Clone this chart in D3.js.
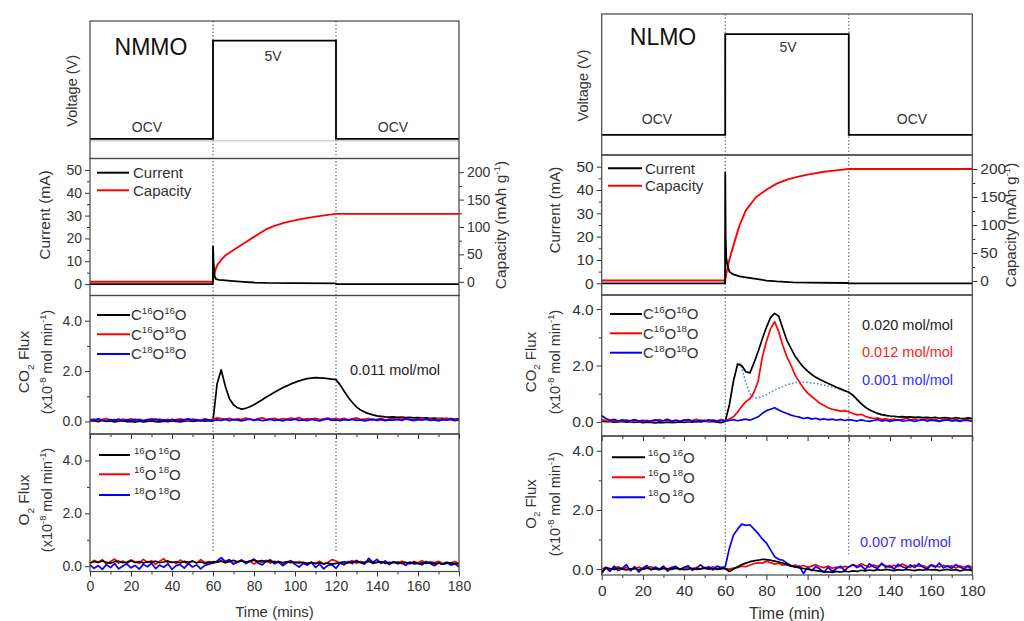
<!DOCTYPE html>
<html>
<head>
<meta charset="utf-8">
<script src="https://cdn.jsdelivr.net/npm/d3@7"></script>
<style>
  body { margin: 0; background: #fff; }
  svg { font-family: "Liberation Sans", Arial, sans-serif; }
</style>
</head>
<body>
<svg id="chart" width="1024" height="621"></svg>
<script>
// ---- data ----
const time = d3.range(0, 181, 2);   // MS sampling grid (min)

const vTime = [0, 60, 120, 180];
const vLevel = [3, 5, 3, 3];

const nmmoCurT = [0, 59.9, 60, 60.3, 60.8, 61.5, 63, 66, 70, 75, 80, 86, 100, 119.9, 120, 180];
const nmmoCur  = [0, 0, 16.5, 9, 3.5, 2.2, 1.8, 1.6, 1.3, 1.0, 0.7, 0.5, 0.4, 0.3, 0, 0];
const nmmoCapT = [0, 60, 60.5, 61, 62, 64, 66, 70, 75, 80, 86, 90, 95, 102, 110, 118, 120, 180];
const nmmoCap  = [0, 0, 12, 20, 30, 40, 48, 58, 70, 82, 96, 102, 108, 114, 119, 123, 124, 124];

const nlmoCurT = [0, 59.9, 60, 60.2, 60.5, 61, 62, 64, 67, 70, 75, 80, 85, 93, 100, 119.9, 120, 180];
const nlmoCur  = [0, 0, 47.5, 20, 11, 8, 5, 3.8, 3, 2.6, 1.9, 1.2, 0.8, 0.4, 0.3, 0.15, 0, 0];
const nlmoCapT = [0, 60, 60.5, 61, 62, 64, 67, 70, 75, 80, 85, 90, 95, 100, 108, 115, 120, 180];
const nlmoCap  = [1, 1, 12, 22, 38, 64, 100, 126, 150, 163, 174, 181, 186, 190, 195, 198, 200, 200];

const nmmoCO2_1616 = [
  0.02,0.03,-0.01,0.04,0.00,0.02,-0.02,0.01,0.03,-0.01, 0.00,-0.03,0.01,-0.02,0.00,0.02,-0.01,-0.02,0.01,-0.01, 0.02,0.00,-0.02,0.01,0.03,0.00,0.02,0.04,0.01,0.03, 0.02,
  1.50,2.05,1.40,0.90,0.66,0.54,0.49,0.52,0.58,0.66, 0.76,0.86,0.97,1.06,1.16,1.25,1.34,1.41,1.49,1.55, 1.61,1.66,1.70,1.72,1.74,1.73,1.72,1.70,1.68,1.66,
  1.45,1.20,0.95,0.75,0.58,0.45,0.37,0.31,0.26,0.22, 0.20,0.18,0.17,0.18,0.16,0.17,0.15,0.16,0.14,0.15, 0.13,0.14,0.12,0.13,0.11,0.12,0.10,0.11,0.09,0.10];
const nmmoCO2_1618 = [
  0.06,0.09,0.04,0.08,0.11,0.05,0.07,0.03,0.09,0.06, 0.10,0.05,0.08,0.04,0.07,0.11,0.06,0.09,0.05,0.08, 0.03,0.07,0.10,0.06,0.04,0.09,0.07,0.05,0.10,0.06, 0.08,
  0.14,0.11,0.09,0.12,0.07,0.10,0.08,0.13,0.09,0.06, 0.11,0.14,0.08,0.10,0.12,0.07,0.11,0.09,0.13,0.10, 0.15,0.08,0.11,0.09,0.12,0.07,0.10,0.13,0.09,0.11,
  0.08,0.12,0.06,0.10,0.14,0.07,0.09,0.11,0.05,0.08, 0.12,0.06,0.09,0.11,0.07,0.13,0.08,0.10,0.05,0.09, 0.12,0.07,0.10,0.06,0.11,0.08,0.13,0.07,0.09,0.06];
const nmmoCO2_1818 = [
  0.08,0.03,0.10,0.05,0.01,0.07,0.04,0.09,0.02,0.06, 0.03,0.08,0.05,0.01,0.07,0.04,0.09,0.03,0.06,0.02, 0.08,0.05,0.03,0.07,0.10,0.04,0.06,0.02,0.08,0.05, 0.03,
  0.06,0.04,0.08,0.03,0.07,0.05,0.02,0.06,0.09,0.04, 0.07,0.03,0.05,0.08,0.04,0.06,0.02,0.07,0.05,0.09, 0.04,0.06,0.03,0.08,0.05,0.02,0.07,0.10,0.04,0.06,
  0.03,0.07,0.05,0.08,0.04,0.06,0.02,0.05,0.09,0.04, 0.07,0.03,0.06,0.05,0.08,0.04,0.10,0.06,0.03,0.07, 0.05,0.09,0.04,0.06,0.02,0.07,0.05,0.08,0.03,0.06];

const nmmoO2_1616 = [
  0.12,0.18,0.14,0.20,0.15,0.11,0.17,0.19,0.13,0.16, 0.21,0.14,0.18,0.12,0.17,0.15,0.19,0.13,0.16,0.20, 0.14,0.17,0.12,0.18,0.15,0.19,0.13,0.16,0.11,0.14, 0.17,
  0.15,0.19,0.14,0.18,0.22,0.17,0.20,0.16,0.19,0.23, 0.18,0.21,0.17,0.20,0.15,0.18,0.14,0.17,0.13,0.16, 0.12,0.15,0.11,0.14,0.10,0.13,0.09,0.12,0.08,0.11,
  0.14,0.17,0.12,0.16,0.19,0.13,0.15,0.18,0.12,0.14, 0.17,0.11,0.15,0.13,0.16,0.10,0.14,0.12,0.15,0.09, 0.13,0.11,0.14,0.10,0.12,0.08,0.11,0.13,0.09,0.10];
const nmmoO2_1618 = [
  0.10,0.22,0.15,0.25,0.08,0.18,0.27,0.12,0.20,0.09, 0.24,0.16,0.11,0.26,0.14,0.21,0.07,0.19,0.28,0.13, 0.17,0.10,0.23,0.15,0.09,0.20,0.12,0.25,0.14,0.18, 0.11,
  0.16,0.22,0.12,0.19,0.09,0.17,0.24,0.13,0.20,0.08, 0.18,0.15,0.22,0.11,0.19,0.14,0.07,0.16,0.21,0.10, 0.18,0.13,0.06,0.15,0.11,0.19,0.08,0.14,0.25,0.20,
  0.12,0.09,0.16,0.21,0.11,0.18,0.14,0.22,0.10,0.17, 0.13,0.20,0.09,0.16,0.12,0.19,0.15,0.08,0.18,0.13, 0.21,0.11,0.17,0.14,0.19,0.10,0.15,0.12,0.18,0.09];
const nmmoO2_1818 = [
  0.05,-0.08,0.02,-0.12,0.06,-0.05,0.10,-0.10,0.01,0.08, -0.06,0.03,-0.11,0.07,-0.02,0.11,-0.09,0.04,-0.04,0.09, -0.12,0.02,0.06,-0.07,0.10,-0.03,0.05,-0.10,0.03,0.08, 0.12,
  0.20,0.32,0.18,0.25,0.08,0.15,0.22,0.10,0.18,0.27, 0.12,0.05,0.19,0.24,0.09,0.16,0.02,0.13,0.20,0.07, -0.03,0.11,0.04,0.15,-0.05,0.08,-0.10,0.03,0.06,-0.08,
  0.12,0.05,0.18,0.10,0.22,0.14,0.08,0.30,0.15,0.26, 0.11,0.19,0.06,0.17,0.09,0.14,0.03,0.16,0.08,0.12, 0.05,0.18,0.10,0.02,0.13,0.07,0.15,0.04,0.09,-0.02];

const nlmoCO2_1616 = [
  0.03,0.01,0.02,-0.01,0.00,0.02,-0.01,0.01,-0.02,0.00, -0.03,-0.01,-0.02,-0.04,-0.02,-0.03,-0.01,-0.03,-0.02,0.00, -0.02,0.01,-0.01,0.02,0.00,0.03,0.01,0.02,-0.01,-0.03, 0.02,
  0.60,1.45,2.05,2.00,1.78,1.74,2.10,2.50,2.95,3.35, 3.70,3.85,3.75,3.30,2.88,2.60,2.32,2.12,1.94,1.80, 1.68,1.58,1.50,1.43,1.36,1.30,1.23,1.17,1.11,1.05,
  0.95,0.80,0.65,0.52,0.43,0.36,0.30,0.26,0.23,0.21, 0.20,0.18,0.19,0.17,0.18,0.16,0.17,0.15,0.16,0.14, 0.16,0.13,0.15,0.14,0.12,0.15,0.13,0.12,0.14,0.12];
const nlmoCO2_1618 = [
  0.08,0.05,0.02,0.06,0.01,0.04,0.07,0.02,0.05,0.00, 0.03,0.06,0.01,0.04,0.08,0.03,0.05,0.01,0.06,0.03, 0.07,0.02,0.05,0.09,0.04,0.06,0.02,0.07,0.04,0.08, 0.05,
  0.10,0.18,0.35,0.55,0.72,0.82,1.05,1.45,2.30,2.85, 3.30,3.55,3.20,2.70,2.30,2.00,1.65,1.42,1.20,1.02, 0.90,0.78,0.66,0.58,0.50,0.45,0.42,0.38,0.40,0.36,
  0.30,0.25,0.27,0.20,0.15,0.12,0.14,0.09,0.11,0.07, 0.10,0.06,0.09,0.12,0.07,0.10,0.05,0.08,0.11,0.06, 0.09,0.04,0.08,0.10,0.06,0.09,0.05,0.08,0.07,0.05];
const nlmoCO2_1818 = [
  0.22,0.12,0.06,0.09,0.03,0.07,0.02,0.05,0.08,0.03, 0.06,0.01,0.04,0.07,0.02,0.05,0.09,0.03,0.06,0.02, 0.05,0.08,0.04,0.01,0.06,0.03,0.07,0.04,0.02,0.05, 0.03,
  0.05,0.08,0.04,0.07,0.10,0.06,0.12,0.18,0.30,0.40, 0.45,0.50,0.42,0.35,0.30,0.24,0.20,0.17,0.12,0.15, 0.10,0.13,0.08,0.11,0.07,0.10,0.06,0.09,0.05,0.08,
  0.06,0.03,0.07,0.04,0.02,0.05,0.08,0.03,0.06,0.02, 0.05,0.07,0.03,0.04,0.06,0.02,0.05,0.08,0.03,0.06, 0.04,0.02,0.05,0.07,0.03,0.05,0.02,0.06,0.04,0.03];
// fitted component (dotted)
const nlmoFitT = [60, 62, 64, 66, 67, 68, 70, 72, 74, 76, 80, 85, 90, 95, 100, 105, 110, 115, 120, 125, 130, 135, 140, 150, 160];
const nlmoFit  = [0.02, 0.60, 1.45, 2.05, 2.10, 1.90, 1.40, 1.00, 0.86, 0.85, 0.97, 1.17, 1.32, 1.40, 1.40, 1.35, 1.27, 1.17, 1.06, 0.72, 0.42, 0.26, 0.19, 0.15, 0.13];

const nlmoO2_1616 = [
  -0.12,0.05,0.02,-0.01,0.03,0.00,-0.03,0.01,0.02,-0.02, 0.00,0.03,-0.01,0.01,-0.02,0.02,0.00,-0.01,0.03,0.01, -0.02,0.00,0.02,-0.01,0.01,0.03,0.00,0.02,-0.01,0.01, 0.02,
  -0.08,0.00,0.08,0.15,0.20,0.25,0.28,0.30,0.33,0.32, 0.30,0.27,0.24,0.20,0.15,0.10,0.08,0.04,0.02,0.00, -0.03,-0.05,-0.07,-0.10,-0.09,-0.11,-0.08,-0.10,-0.07,-0.09,
  -0.06,-0.08,-0.04,-0.06,-0.03,-0.05,-0.02,-0.04,-0.01,-0.03, -0.05,-0.02,-0.04,-0.01,-0.03,-0.05,-0.02,-0.04,-0.01,-0.03, -0.02,-0.05,-0.03,-0.01,-0.04,-0.02,-0.06,-0.03,-0.02,-0.05];
const nlmoO2_1618 = [
  0.00,0.06,-0.02,0.04,0.08,0.01,0.05,-0.03,0.03,0.07, 0.00,0.04,0.08,0.02,-0.02,0.05,0.01,0.06,0.03,-0.01, 0.04,0.07,0.02,0.05,0.00,0.06,0.03,0.08,0.01,0.04, 0.02,
  0.00,0.03,0.05,0.10,0.08,0.14,0.18,0.22,0.20,0.26, 0.22,0.17,0.20,0.13,0.16,0.10,0.14,0.08,0.12,0.06, 0.10,0.15,0.08,0.05,0.10,0.03,0.07,0.04,0.09,0.06,
  0.15,0.10,0.18,0.12,0.06,0.14,0.09,0.16,0.11,0.05, 0.13,0.08,0.17,0.10,0.06,0.14,0.09,0.12,0.05,0.15, 0.10,0.07,0.13,0.08,0.11,0.04,0.10,0.07,0.12,0.05];
const nlmoO2_1818 = [
  -0.15,0.05,-0.08,0.10,-0.05,0.02,0.15,-0.06,0.08,-0.10, 0.04,0.12,-0.03,0.07,0.00,0.10,-0.07,0.05,0.09,-0.02, 0.06,0.11,-0.04,0.03,0.14,0.02,0.08,-0.03,0.10,0.05, 0.08,
  0.70,1.15,1.35,1.52,1.48,1.50,1.35,1.20,1.02,0.88, 0.65,0.42,0.33,0.30,0.20,0.12,0.06,0.10,-0.15,0.05, -0.05,0.08,0.00,-0.10,0.06,-0.08,0.02,0.10,-0.05,0.08,
  0.15,0.05,0.12,-0.02,0.18,0.08,0.02,0.20,0.06,0.12, 0.00,0.16,0.08,0.03,0.14,0.05,0.18,0.07,0.00,0.13, 0.06,0.20,0.04,0.11,0.02,0.15,0.07,0.00,0.10,-0.05];

// ---- layout per panel ----
const panels = [
  {
    name: "NMMO", x0: 90, x1: 459,
    vY: [21, 158.5], cY: [158.5, 295.5], co2Y: [295.5, 434], o2Y: [434, 571.5],
    co2Dom: [-0.5, 5], o2Dom: [-0.2, 5],
    tickFs: 14, titleFs: 15.5, legFs: 15, xTitle: "Time (mins)", xTitleFs: 15, xLabY: 592, xTitleY: 617,
    vTitleX: 72, cTitleX: 45, capTitleX: 501, fluxX1: 24, fluxX2: 47,
    cTitleCY: 215, capTitleCY: 225, co2CY: 362, o2CY: 500,
    nameXY: [151, 55], fiveV: [273, 61], ocv: [[147, 132], [393, 132]], baseLine: true,
    cur: [nmmoCurT, nmmoCur], cap: [nmmoCapT, nmmoCap],
    co2: [nmmoCO2_1616, nmmoCO2_1618, nmmoCO2_1818], o2: [nmmoO2_1616, nmmoO2_1618, nmmoO2_1818],
    legC: {x1: 97, x2: 129, tx: 133, ys: [172.7, 190.3]},
    legCO2: {x1: 97, x2: 130, tx: 131, ys: [315, 334.3, 354]},
    legO2: {x1: 99, x2: 130, tx: 134, ys: [455, 474.3, 495]},
    notesCO2: [["0.011 mol/mol", 350, 375, "#222"]], notesO2: []
  },
  {
    name: "NLMO", x0: 601.7, x1: 972.3,
    vY: [14, 155], cY: [155, 295], co2Y: [295, 436], o2Y: [436, 575],
    co2Dom: [-0.5, 4.5], o2Dom: [-0.2, 4.5],
    tickFs: 15.5, titleFs: 15, legFs: 15, xTitle: "Time (min)", xTitleFs: 16, xLabY: 597, xTitleY: 619,
    vTitleX: 583, cTitleX: 555, capTitleX: 1011, fluxX1: 531, fluxX2: 555,
    cTitleCY: 210, capTitleCY: 225, co2CY: 362, o2CY: 504,
    nameXY: [663, 45], fiveV: [788, 52], ocv: [[657, 123.5], [912, 123.5]], baseLine: false,
    cur: [nlmoCurT, nlmoCur], cap: [nlmoCapT, nlmoCap],
    co2: [nlmoCO2_1616, nlmoCO2_1618, nlmoCO2_1818], o2: [nlmoO2_1616, nlmoO2_1618, nlmoO2_1818],
    fit: [nlmoFitT, nlmoFit],
    legC: {x1: 608, x2: 642, tx: 645, ys: [168.3, 185.7]},
    legCO2: {x1: 610, x2: 642, tx: 643, ys: [314, 333.3, 352.7]},
    legO2: {x1: 612, x2: 645, tx: 648, ys: [457.3, 477.3, 497.3]},
    notesCO2: [["0.020 mol/mol", 862, 329.5, "#222"], ["0.012 mol/mol", 862, 357, "#ff2020"], ["0.001 mol/mol", 862, 384.5, "#3030ff"]],
    notesO2: [["0.007 mol/mol", 860, 547, "#3030ff"]]
  }
];

const colors = ["#000000", "#ff0000", "#0000ff"];
const AX = "#333";
const svg = d3.select("#chart");

// text with super/subscript parts: [[str, "sup"|"sub"|undefined, dx], ...]
function richText(g, x, y, parts, fs, color, anchor) {
  const t = g.append("text").attr("x", x).attr("y", y)
    .attr("font-size", fs).attr("fill", color || AX);
  if (anchor) t.attr("text-anchor", anchor);
  let shift = 0;
  parts.forEach(([s, k, dx]) => {
    const target = k === "sup" ? -fs * 0.42 : k === "sub" ? fs * 0.28 : 0;
    const ts = t.append("tspan").text(s).attr("dy", target - shift);
    if (k) ts.attr("font-size", fs * 0.64);
    if (dx) ts.attr("dx", dx);
    shift = target;
  });
  return t;
}

function vTitle(g, x, cy, parts, fs) {
  const gg = g.append("g").attr("transform", `translate(${x},${cy}) rotate(-90)`);
  richText(gg, 0, fs * 0.35, parts, fs, AX, "middle");
}

function styleAxis(sel, fs) {
  sel.select(".domain").remove();
  sel.selectAll("line").attr("stroke", AX).attr("stroke-width", 1);
  sel.selectAll("text").attr("font-size", fs).attr("fill", AX)
    .attr("font-family", '"Liberation Sans", Arial, sans-serif');
}

function addAxis(g, axisFn, scale, pos, majors, minors, fmt, fs, horizontal, pad) {
  const tr = horizontal ? `translate(0,${pos})` : `translate(${pos},0)`;
  g.append("g").attr("transform", tr)
    .call(axisFn(scale).tickValues(minors).tickSize(3).tickFormat(""))
    .call(s => styleAxis(s, fs));
  g.append("g").attr("transform", tr)
    .call(axisFn(scale).tickValues(majors).tickSize(5).tickPadding(pad || 3).tickFormat(fmt || ""))
    .call(s => styleAxis(s, fs));
}

function series(g, xs, ys, sx, sy, color, width, dash) {
  const pts = xs.map((t, i) => [t, ys[i]]).filter(d => d[1] != null && d[0] != null);
  const p = g.append("path").datum(pts)
    .attr("d", d3.line().x(d => sx(d[0])).y(d => sy(d[1])))
    .attr("fill", "none").attr("stroke", color).attr("stroke-width", width)
    .attr("stroke-linejoin", "round");
  if (dash) p.attr("stroke-dasharray", dash);
}

function legend(g, L, labels, fs) {
  L.ys.forEach((y, i) => {
    g.append("line").attr("x1", L.x1).attr("x2", L.x2).attr("y1", y).attr("y2", y)
      .attr("stroke", colors[i]).attr("stroke-width", 2);
    richText(g, L.tx, y + fs * 0.36, labels[i], fs, AX);
  });
}

function drawPanel(p) {
  const g = svg.append("g");
  const x = d3.scaleLinear().domain([0, 180]).range([p.x0, p.x1]);
  const yV = d3.scaleLinear().domain([2.6, 5.4]).range([p.vY[1], p.vY[0]]);
  const yC = d3.scaleLinear().domain([-5, 55]).range([p.cY[1], p.cY[0]]);
  const yCap = d3.scaleLinear().domain([-25, 225]).range([p.cY[1], p.cY[0]]);
  const yCO2 = d3.scaleLinear().domain(p.co2Dom).range([p.co2Y[1], p.co2Y[0]]);
  const yO2 = d3.scaleLinear().domain(p.o2Dom).range([p.o2Y[1], p.o2Y[0]]);

  // dotted step markers
  [60, 120].forEach(t => {
    g.append("line").attr("x1", x(t)).attr("x2", x(t))
      .attr("y1", p.vY[0]).attr("y2", yO2(0.5))
      .attr("stroke", "#555").attr("stroke-width", 1).attr("stroke-dasharray", "1.5,2");
  });

  // voltage step
  if (p.baseLine) {
    g.append("line").attr("x1", p.x0).attr("x2", p.x1)
      .attr("y1", yV(3) + 2).attr("y2", yV(3) + 2).attr("stroke", "#aaa").attr("stroke-width", 0.8);
  }
  g.append("path").datum(vTime.map((t, i) => [t, vLevel[i]]))
    .attr("d", d3.line().curve(d3.curveStepAfter).x(d => x(d[0])).y(d => yV(d[1])))
    .attr("fill", "none").attr("stroke", "#000").attr("stroke-width", 1.8);

  g.append("text").attr("x", p.nameXY[0]).attr("y", p.nameXY[1]).attr("text-anchor", "middle")
    .attr("font-size", 23).attr("fill", "#111").text(p.name);
  g.append("text").attr("x", p.fiveV[0]).attr("y", p.fiveV[1]).attr("text-anchor", "middle")
    .attr("font-size", 14).attr("fill", AX).text("5V");
  p.ocv.forEach(([ox, oy]) => g.append("text").attr("x", ox).attr("y", oy).attr("text-anchor", "middle")
    .attr("font-size", 14).attr("fill", AX).text("OCV"));

  // current / capacity
  series(g, p.cap[0], p.cap[1], x, yCap, colors[1], 1.9);
  series(g, p.cur[0], p.cur[1], x, yC, colors[0], 1.8);
  addAxis(g, d3.axisLeft, yC, p.x0, [0, 10, 20, 30, 40, 50], [5, 15, 25, 35, 45], d3.format("d"), p.tickFs);
  addAxis(g, d3.axisRight, yCap, p.x1, [0, 50, 100, 150, 200], [25, 75, 125, 175], d3.format("d"), p.tickFs);
  legend(g, p.legC, [[["Current"]], [["Capacity"]]], p.legFs);

  // CO2
  if (p.fit) series(g, p.fit[0], p.fit[1], x, yCO2, "#5a8fc8", 1.6, "1.6,2");
  p.co2.forEach((vals, i) => series(g, time, vals, x, yCO2, colors[i], 1.7));
  addAxis(g, d3.axisLeft, yCO2, p.x0, [0, 2, 4], [1, 3], d3.format(".1f"), p.tickFs);
  legend(g, p.legCO2, [
    [["C"], ["16", "sup"], ["O"], ["16", "sup"], ["O"]],
    [["C"], ["16", "sup"], ["O"], ["18", "sup"], ["O"]],
    [["C"], ["18", "sup"], ["O"], ["18", "sup"], ["O"]]
  ], p.legFs);
  p.notesCO2.forEach(([s, nx, ny, c]) => g.append("text").attr("x", nx).attr("y", ny)
    .attr("font-size", 14.5).attr("fill", c).text(s));

  // O2 (black drawn last so it sits on top)
  [1, 2, 0].forEach(i => series(g, time, p.o2[i], x, yO2, colors[i], 1.7));
  addAxis(g, d3.axisLeft, yO2, p.x0, [0, 2, 4], [1, 3], d3.format(".1f"), p.tickFs);
  legend(g, p.legO2, [
    [["16", "sup"], ["O"], ["16", "sup", 2], ["O"]],
    [["16", "sup"], ["O"], ["18", "sup", 2], ["O"]],
    [["18", "sup"], ["O"], ["18", "sup", 2], ["O"]]
  ], p.legFs);
  p.notesO2.forEach(([s, nx, ny, c]) => g.append("text").attr("x", nx).attr("y", ny)
    .attr("font-size", 14.5).attr("fill", c).text(s));

  // x axes: mirrored ticks at O2 top, labelled axis at bottom
  const xMaj = d3.range(0, 181, 20), xMin = d3.range(10, 180, 20);
  addAxis(g, d3.axisBottom, x, p.o2Y[0], xMaj, xMin, null, p.tickFs, true);
  addAxis(g, d3.axisBottom, x, p.o2Y[1], xMaj, xMin, d3.format("d"), p.tickFs, true, p.xLabY - p.o2Y[1] - 5 - p.tickFs * 0.75);
  g.append("text").attr("x", (p.x0 + p.x1) / 2).attr("y", p.xTitleY).attr("text-anchor", "middle")
    .attr("font-size", p.xTitleFs).attr("fill", AX).text(p.xTitle);

  // frames
  [p.vY, p.cY, p.co2Y, p.o2Y].forEach(([a, b]) => {
    g.append("rect").attr("x", p.x0).attr("y", a).attr("width", p.x1 - p.x0).attr("height", b - a)
      .attr("fill", "none").attr("stroke", "#444").attr("stroke-width", 1.2);
  });

  // y titles
  vTitle(g, p.vTitleX, (p.vY[0] + p.vY[1]) / 2 + 1, [["Voltage (V)"]], 14.5);
  vTitle(g, p.cTitleX, p.cTitleCY, [["Current (mA)"]], p.titleFs);
  vTitle(g, p.capTitleX, p.capTitleCY, [["Capacity (mAh g"], ["-1", "sup"], [")"]], p.titleFs);
  vTitle(g, p.fluxX1, p.co2CY, [["CO"], ["2", "sub"], [" Flux"]], p.titleFs);
  vTitle(g, p.fluxX2, p.co2CY, [["(x10"], ["-8", "sup"], [" mol min"], ["-1", "sup"], [")"]], 14.5);
  vTitle(g, p.fluxX1, p.o2CY, [["O"], ["2", "sub"], [" Flux"]], p.titleFs);
  vTitle(g, p.fluxX2, p.o2CY, [["(x10"], ["-8", "sup"], [" mol min"], ["-1", "sup"], [")"]], 14.5);
}

panels.forEach(drawPanel);
</script>
</body>
</html>
